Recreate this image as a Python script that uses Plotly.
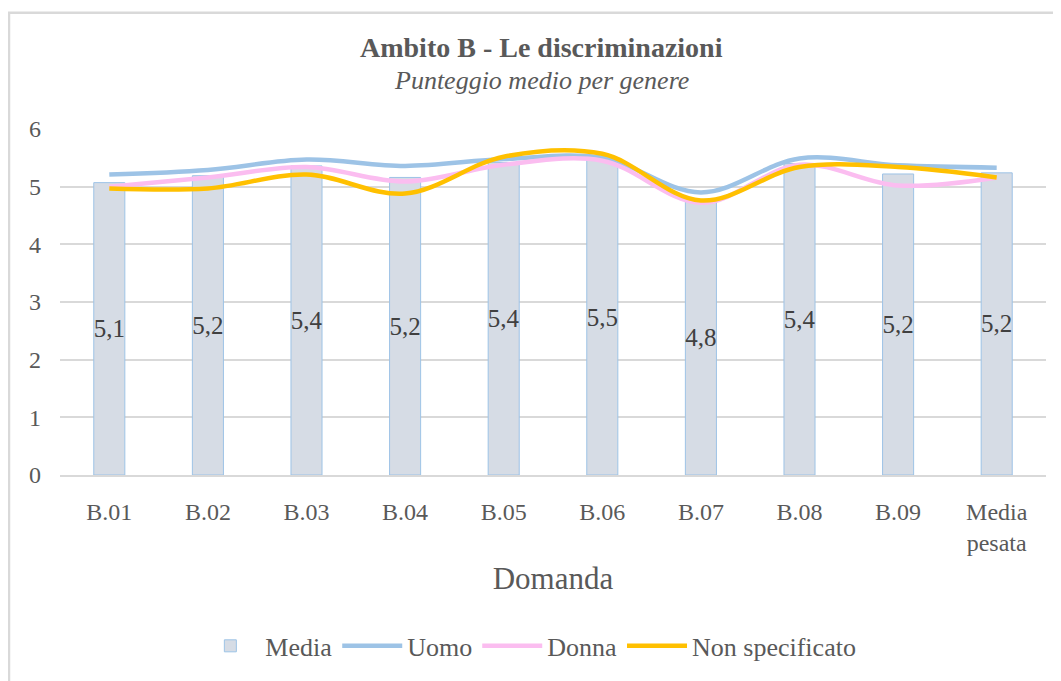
import plotly.graph_objects as go

categorie = ["B.01", "B.02", "B.03", "B.04", "B.05", "B.06", "B.07", "B.08", "B.09", "Media<br>pesata"]
media = [5.07, 5.19, 5.36, 5.16, 5.42, 5.47, 4.78, 5.40, 5.22, 5.24]
uomo = [5.21, 5.29, 5.47, 5.36, 5.48, 5.50, 4.90, 5.49, 5.37, 5.33]
donna = [5.00, 5.16, 5.34, 5.09, 5.38, 5.45, 4.72, 5.38, 5.02, 5.16]
non_spec = [4.97, 4.97, 5.21, 4.88, 5.52, 5.57, 4.76, 5.34, 5.34, 5.16]

FONT = "Liberation Serif"
GREY = "#595959"

fig = go.Figure()
fig.add_trace(go.Bar(
    x=categorie, y=media, name="Media",
    marker=dict(color="#D6DCE5", line=dict(color="#9DC3E6", width=1)),
    texttemplate="%{y:.1f}", textposition="inside", insidetextanchor="middle",
    constraintext="none", textangle=0,
    textfont=dict(family=FONT, size=25, color="#404040"),
))
for nome, valori, colore in [("Uomo", uomo, "#9DC3E6"),
                             ("Donna", donna, "#FBBDF0"),
                             ("Non specificato", non_spec, "#FFC000")]:
    fig.add_trace(go.Scatter(
        x=categorie, y=valori, name=nome, mode="lines",
        line=dict(color=colore, width=4.5, shape="spline", smoothing=1),
    ))

# the page body adds an 8px offset, so the figure is 8px smaller
fig.update_layout(
    width=1053, height=673,
    margin=dict(l=52, r=15, t=121, b=204),
    paper_bgcolor="white", plot_bgcolor="white",
    separators=",.",
    bargap=0.685,
    font=dict(family=FONT, size=24, color=GREY),
    showlegend=True,
    legend=dict(orientation="h", x=0.475, xanchor="center", y=-0.494, yanchor="middle",
                font=dict(size=26, color=GREY), itemwidth=60, traceorder="normal"),
    annotations=[
        dict(text="<b>Ambito B - Le discriminazioni</b>", x=0.488, y=1.236,
             xref="paper", yref="paper", showarrow=False,
             xanchor="center", yanchor="middle",
             font=dict(family=FONT, size=28, color=GREY)),
        dict(text="<i>Punteggio medio per genere</i>", x=0.488, y=1.141,
             xref="paper", yref="paper", showarrow=False,
             xanchor="center", yanchor="middle",
             font=dict(family=FONT, size=26, color=GREY)),
    ],
    shapes=[
        dict(type="rect", xref="paper", yref="paper",
             x0=(9 - 60) / 986, x1=(1070 - 60) / 986,
             y0=(477 - 690) / 348, y1=(477 - 12) / 348,
             line=dict(color="#D9D9D9", width=2.5), fillcolor="rgba(0,0,0,0)", layer="below"),
    ],
)
fig.update_xaxes(
    showline=True, linecolor="#D9D9D9", linewidth=1.5, showgrid=False,
    ticks="", ticklabelstandoff=14, tickfont=dict(size=24, color=GREY),
    title=dict(text="Domanda", font=dict(size=31, color=GREY), standoff=13),
)
fig.update_yaxes(
    range=[0, 6], dtick=1, showgrid=True, gridcolor="#D9D9D9", gridwidth=1.5,
    zeroline=False, showline=False, ticks="", ticklabelstandoff=18,
    tickfont=dict(size=24, color=GREY),
)

fig.write_html("out.html")
